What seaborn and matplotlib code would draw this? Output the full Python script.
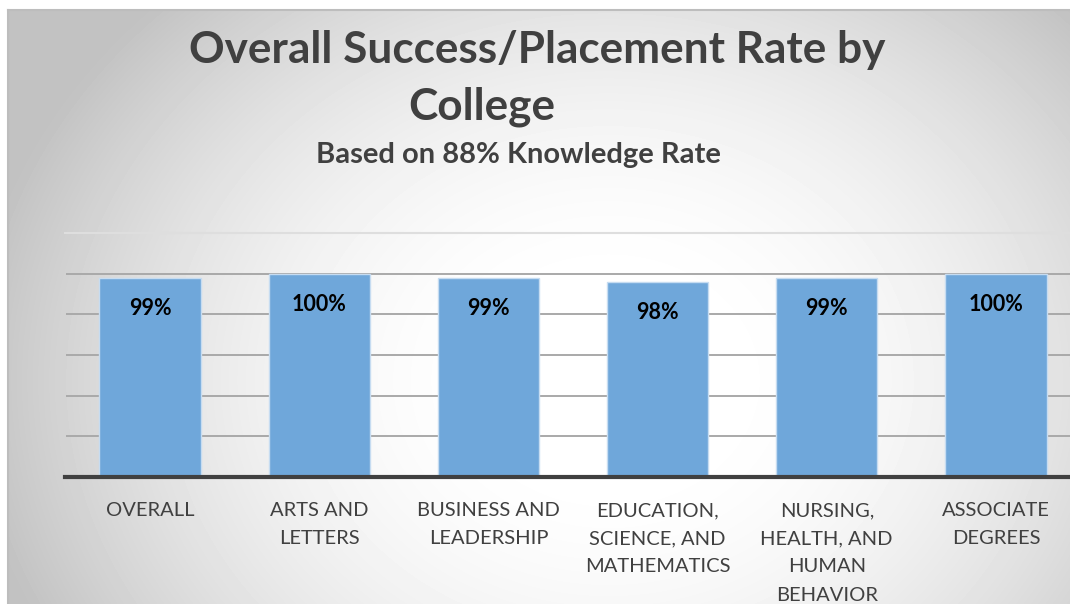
import numpy as np
import pandas as pd
import seaborn as sns
import matplotlib.pyplot as plt

# -----------------------------
# Data
# -----------------------------
colleges = [
    "OVERALL",
    "ARTS AND\nLETTERS",
    "BUSINESS AND\nLEADERSHIP",
    "EDUCATION,\nSCIENCE, AND\nMATHEMATICS",
    "NURSING,\nHEALTH, AND\nHUMAN\nBEHAVIOR",
    "ASSOCIATE\nDEGREES",
]
rates = [99, 100, 99, 98, 99, 100]
rate_labels = ["99%", "100%", "99%", "98%", "99%", "100%"]

title_line1 = "Overall Success/Placement Rate by"
title_line2 = "College"
subtitle = "Based on 88% Knowledge Rate"

df = pd.DataFrame({"college": colleges, "rate": rates})

# -----------------------------
# Style
# -----------------------------
sns.set_theme(style="white")
plt.rcParams["font.family"] = ["Lato", "DejaVu Sans"]

W, H = 1070, 604
fig = plt.figure(figsize=(W / 100, H / 100), dpi=100)
fig.patch.set_facecolor("white")

# radial gradient background (white centre, grey edges)
bg = fig.add_axes([8 / W, 0, 1 - 8 / W, (H - 10) / H], zorder=0)
yy, xx = np.mgrid[0:594, 0:1062]
cx, cy = 600, 370
d = np.sqrt((xx - cx) ** 2 + ((yy - cy) * 1.2) ** 2) / 640
t = np.clip((d - 0.15) / 0.85, 0, 1) ** 1.8
shade = 1.0 - t * (1.0 - 0.76)
bg.imshow(shade, cmap="gray", vmin=0, vmax=1, aspect="auto", extent=[0, 1, 0, 1], origin="upper")
bg.set_xticks([])
bg.set_yticks([])
for side in ["right", "bottom"]:
    bg.spines[side].set_visible(False)
for side in ["top", "left"]:
    bg.spines[side].set_color("#bdbdbd")
    bg.spines[side].set_linewidth(1.5)

# -----------------------------
# Bar chart
# -----------------------------
ax = fig.add_axes([65.5 / W, (H - 477) / H, 1015 / W, 244 / H], zorder=2)
ax.patch.set_alpha(0)
sns.barplot(data=df, x="college", y="rate", color="#6fa7da", saturation=1,
            width=0.6, edgecolor="#c6dcf1", linewidth=1, ax=ax, zorder=3)
ax.set_ylim(50, 110)
ax.set_yticks([60, 70, 80, 90, 100])
ax.yaxis.grid(True, color="#a9a9a9", linewidth=1.4)
ax.set_axisbelow(True)
ax.tick_params(axis="y", left=False, labelleft=False)
ax.tick_params(axis="x", length=0, pad=18, labelsize=14.5, labelcolor="#404040")
for lab in ax.get_xticklabels():
    lab.set_linespacing(1.8)
ax.set_xlabel("")
ax.set_ylabel("")

for s in ["left", "right"]:
    ax.spines[s].set_visible(False)
ax.spines["top"].set_color("#dedede")
ax.spines["top"].set_linewidth(1.5)
ax.spines["bottom"].set_color("#404040")
ax.spines["bottom"].set_linewidth(3)
ax.spines["bottom"].set_zorder(5)

for i, (v, lab) in enumerate(zip(rates, rate_labels)):
    ax.annotate(lab, xy=(i, v), xytext=(0, -22), textcoords="offset points",
                ha="center", va="center", fontsize=15.5, fontweight="bold",
                color="black", zorder=6)

# -----------------------------
# Titles
# -----------------------------
fig.text(537 / W, 1 - 50 / H, title_line1, ha="center", va="center",
         fontsize=31.8, fontweight="bold", color="#404040", zorder=3)
fig.text(482 / W, 1 - 107 / H, title_line2, ha="center", va="center",
         fontsize=31.8, fontweight="bold", color="#404040", zorder=3)
fig.text(518 / W, 1 - 155 / H, subtitle, ha="center", va="center",
         fontsize=21, fontweight="bold", color="#404040", zorder=3)

plt.savefig("out.png", dpi=100)
